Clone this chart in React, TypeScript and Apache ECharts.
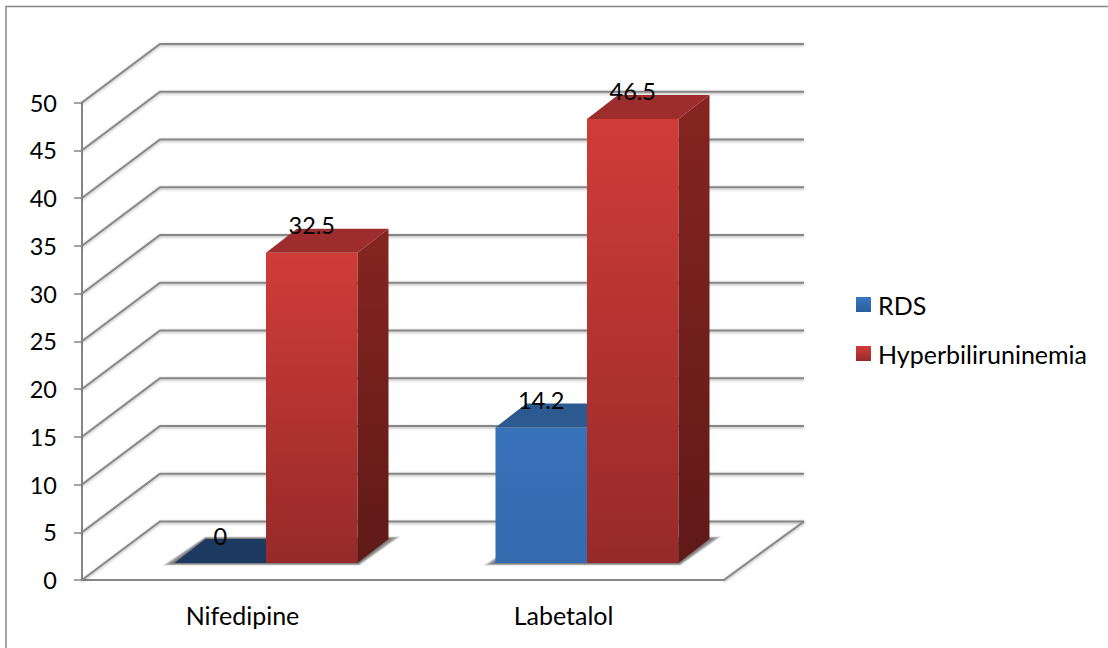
import React, { useEffect, useRef } from "react";
import * as echarts from "echarts";

const categories = ["Nifedipine", "Labetalol"];
const rdsValues = [0, 14.2];
const hyperValues = [32.5, 46.5];
const gridValues = [0, 5, 10, 15, 20, 25, 30, 35, 40, 45, 50];

const FONT = "Lato";
const AXIS_GRAY = "#868686";

// Oblique projection: walls recede up and to the right of the axes.
const WALL_DX = 78;
const WALL_DY = 58.5;
const BACK_EXTRA = 2;
const BAR_DX = 31;
const BAR_DY = 24;
const FRONT_LIFT = 17;
const FRONT_SHIFT = 23.5;
const BAR_W = 91.5;
// Concentric translucent layers give the floor shadow its soft edge.
const SHADOW_LAYERS = [12, 10, 8, 6, 4, 2];

const vGrad = (a: string, b: string) =>
  new echarts.graphic.LinearGradient(0, 0, 0, 1, [
    { offset: 0, color: a },
    { offset: 1, color: b },
  ]);

const poly = (points: number[][], style: any) => ({ type: "polygon", shape: { points }, style, silent: true });

const wallItem = (params: any, api: any) => {
  const v = api.value(1);
  const y = api.coord([0, v])[1];
  const g = params.coordSys;
  const left = g.x;
  const right = g.x + g.width;
  const lineStyle = {
    stroke: AXIS_GRAY,
    lineWidth: 2,
    fill: "none",
    shadowBlur: 3,
    shadowOffsetY: 1,
    shadowColor: "rgba(0,0,0,0.35)",
  };
  const children: any[] = [
    {
      type: "polyline",
      shape: {
        points: [
          [left, y],
          [left + WALL_DX, y - WALL_DY],
          [right + WALL_DX + BACK_EXTRA, y - WALL_DY],
        ],
      },
      style: lineStyle,
    },
  ];
  if (v === 0) {
    children.push({
      type: "line",
      shape: { x1: right, y1: y, x2: right + WALL_DX + BACK_EXTRA, y2: y - WALL_DY },
      style: lineStyle,
    });
  }
  return { type: "group", children };
};

const floorShadowItem = (_params: any, api: any) => {
  const cx = api.coord([api.value(0), 0])[0] + FRONT_SHIFT;
  const y = api.coord([0, 0])[1] - FRONT_LIFT;
  const x0 = cx - BAR_W;
  const x1 = cx + BAR_W;
  return {
    type: "group",
    children: SHADOW_LAYERS.map((s) =>
      poly(
        [
          [x0 - s, y + s / 5],
          [x1 + s / 6, y + s / 5],
          [x1 + BAR_DX + s, y - BAR_DY - s / 5],
          [x0 + BAR_DX, y - BAR_DY - s / 5],
        ],
        { fill: "rgba(70,70,70,0.2)" }
      )
    ),
  };
};

const barItem = (side: number, colors: any) => (_params: any, api: any) => {
  const cat = api.value(0);
  const v = api.value(1);
  const [cx, yv] = api.coord([cat, v]);
  const x0 = cx + FRONT_SHIFT + (side < 0 ? -BAR_W : 0);
  const x1 = x0 + BAR_W;
  const base = api.coord([cat, 0])[1] - FRONT_LIFT;
  const top = yv - FRONT_LIFT;
  const children: any[] = [];
  if (v > 0) {
    children.push({
      type: "rect",
      shape: { x: x0, y: top, width: BAR_W, height: base - top },
      style: { fill: colors.front },
    });
    children.push(
      poly(
        [[x1, top], [x1 + BAR_DX, top - BAR_DY], [x1 + BAR_DX, base - BAR_DY], [x1, base]],
        { fill: colors.side }
      )
    );
  }
  children.push(
    poly(
      [[x0, top], [x0 + BAR_DX, top - BAR_DY], [x1 + BAR_DX, top - BAR_DY], [x1, top]],
      { fill: v > 0 ? colors.top : colors.flat }
    )
  );
  children.push({
    type: "text",
    style: {
      text: String(v),
      x: x0 + BAR_W / 2,
      y: top - 27.5,
      align: "center",
      verticalAlign: "middle",
      fill: "#000",
      fontFamily: FONT,
      fontSize: 23.5,
    },
    z2: 50,
  });
  return { type: "group", children };
};

export default function App() {
  const ref = useRef<HTMLDivElement>(null);

  useEffect(() => {
    const chart = echarts.init(ref.current!, undefined, { renderer: "svg" });
    chart.setOption({
      animation: false,
      backgroundColor: "#fff",
      textStyle: { fontFamily: FONT },
      graphic: [
        {
          type: "polyline",
          shape: { points: [[6, 648], [6, 6.5], [1108, 6.5]] },
          style: { stroke: AXIS_GRAY, lineWidth: 1.5, fill: "none" },
          silent: true,
        },
      ],
      legend: {
        data: ["RDS", "Hyperbiliruninemia"],
        orient: "vertical",
        left: 856,
        top: 292,
        padding: 0,
        itemWidth: 15,
        itemHeight: 15,
        itemGap: 24,
        selectedMode: false,
        icon: "rect",
        textStyle: { fontFamily: FONT, fontSize: 25, color: "#000", padding: [0, 0, 0, 2] },
      },
      grid: { left: 82, top: 102.5, width: 642, height: 477.5 },
      xAxis: {
        type: "category",
        data: categories,
        axisLine: { lineStyle: { color: AXIS_GRAY, width: 2 } },
        axisTick: { length: 8, lineStyle: { color: AXIS_GRAY, width: 1.5 } },
        axisLabel: { color: "#000", fontFamily: FONT, fontSize: 25, margin: 22 },
        splitLine: { show: false },
      },
      yAxis: {
        type: "value",
        min: 0,
        max: 50,
        interval: 5,
        axisLine: { show: true, lineStyle: { color: AXIS_GRAY, width: 2 } },
        axisTick: { show: true, length: 8, lineStyle: { color: AXIS_GRAY, width: 1.5 } },
        axisLabel: { color: "#000", fontFamily: FONT, fontSize: 23.5, margin: 25 },
        splitLine: { show: false },
      },
      series: [
        {
          type: "custom",
          name: "walls",
          data: gridValues.map((v) => [0, v]),
          renderItem: wallItem,
          clip: false,
          silent: true,
          z: 1,
        },
        {
          type: "custom",
          name: "floor shadow",
          data: categories.map((_, i) => [i, 0]),
          renderItem: floorShadowItem,
          clip: false,
          silent: true,
          z: 2,
        },
        {
          type: "custom",
          name: "RDS",
          data: rdsValues.map((v, i) => [i, v]),
          itemStyle: { color: vGrad("#3a78c4", "#2a5d9c") },
          renderItem: barItem(-1, {
            front: vGrad("#3872ba", "#346aae"),
            top: "#2c5a90",
            side: "#1e4068",
            flat: "#1c3a60",
          }),
          clip: false,
          silent: true,
          z: 3,
        },
        {
          type: "custom",
          name: "Hyperbiliruninemia",
          data: hyperValues.map((v, i) => [i, v]),
          itemStyle: { color: vGrad("#d13d38", "#962a29") },
          renderItem: barItem(1, {
            front: vGrad("#d03c38", "#962a29"),
            top: "#9c2d2c",
            side: vGrad("#86251f", "#5f1a18"),
            flat: "#9c2d2c",
          }),
          clip: false,
          silent: true,
          z: 3,
        },
      ],
    });
    return () => chart.dispose();
  }, []);

  return <div ref={ref} style={{ position: "absolute", left: 0, top: 0, width: 1108, height: 648 }} />;
}
